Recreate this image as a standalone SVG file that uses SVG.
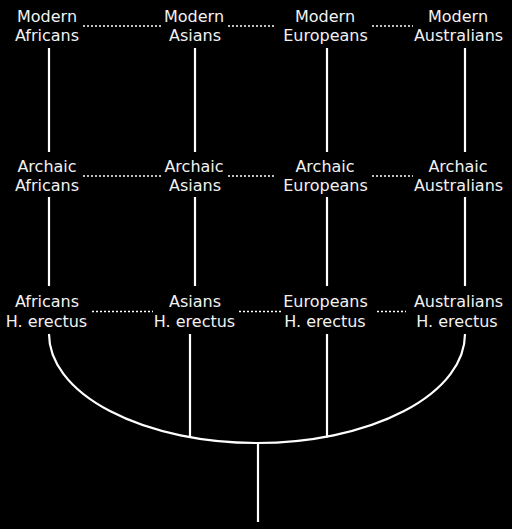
<svg xmlns="http://www.w3.org/2000/svg" width="512" height="529" viewBox="0 0 512 529">
<style>
text{font-family:"DejaVu Sans","Liberation Sans",sans-serif;font-size:16px;fill:#f2f2f2;text-anchor:middle}
.l{stroke:#fff;stroke-width:2.2;fill:none}
.d{stroke:#fff;stroke-width:1.6;stroke-dasharray:2 2;fill:none}
</style>
<rect width="512" height="529" fill="#000"/>
<g id="connectors">
<line class="l" x1="49" y1="48" x2="49" y2="152"/>
<line class="l" x1="195" y1="48" x2="195" y2="152"/>
<line class="l" x1="327" y1="48" x2="327" y2="152"/>
<line class="l" x1="465" y1="48" x2="465" y2="152"/>
<line class="l" x1="49" y1="197" x2="49" y2="286"/>
<line class="l" x1="195" y1="197" x2="195" y2="286"/>
<line class="l" x1="327" y1="197" x2="327" y2="286"/>
<line class="l" x1="465" y1="197" x2="465" y2="286"/>
<path class="l" d="M49 334 A208 109 0 0 0 465 334"/>
<line class="l" x1="190" y1="334" x2="190" y2="437.5"/>
<line class="l" x1="327" y1="334" x2="327" y2="437.5"/>
<line class="l" x1="258" y1="443" x2="258" y2="522"/>
<line class="d" x1="83" y1="26" x2="162" y2="26"/>
<line class="d" x1="228" y1="26" x2="274" y2="26"/>
<line class="d" x1="372" y1="26" x2="413" y2="26"/>
<line class="d" x1="83" y1="176" x2="162" y2="176"/>
<line class="d" x1="228" y1="176" x2="274" y2="176"/>
<line class="d" x1="372" y1="176" x2="413" y2="176"/>
<line class="d" x1="92" y1="311.5" x2="153" y2="311.5"/>
<line class="d" x1="239" y1="311.5" x2="281" y2="311.5"/>
<line class="d" x1="377" y1="311.5" x2="406" y2="311.5"/>
</g>
<g id="modern-africans"><text x="47" y="22">Modern</text><text x="47" y="41">Africans</text></g>
<g id="modern-asians"><text x="194" y="22">Modern</text><text x="195" y="41">Asians</text></g>
<g id="modern-europeans"><text x="325" y="22">Modern</text><text x="325.5" y="41">Europeans</text></g>
<g id="modern-australians"><text x="458" y="22">Modern</text><text x="458.5" y="41">Australians</text></g>
<g id="archaic-africans"><text x="47" y="172">Archaic</text><text x="47" y="191">Africans</text></g>
<g id="archaic-asians"><text x="194" y="172">Archaic</text><text x="195" y="191">Asians</text></g>
<g id="archaic-europeans"><text x="325" y="172">Archaic</text><text x="325.5" y="191">Europeans</text></g>
<g id="archaic-australians"><text x="458" y="172">Archaic</text><text x="458.5" y="191">Australians</text></g>
<g id="erectus-africans"><text x="47" y="307">Africans</text><text x="46.5" y="327">H. erectus</text></g>
<g id="erectus-asians"><text x="195" y="307">Asians</text><text x="194.5" y="327">H. erectus</text></g>
<g id="erectus-europeans"><text x="325.5" y="307">Europeans</text><text x="325" y="327">H. erectus</text></g>
<g id="erectus-australians"><text x="458.5" y="307">Australians</text><text x="457" y="327">H. erectus</text></g>
</svg>
